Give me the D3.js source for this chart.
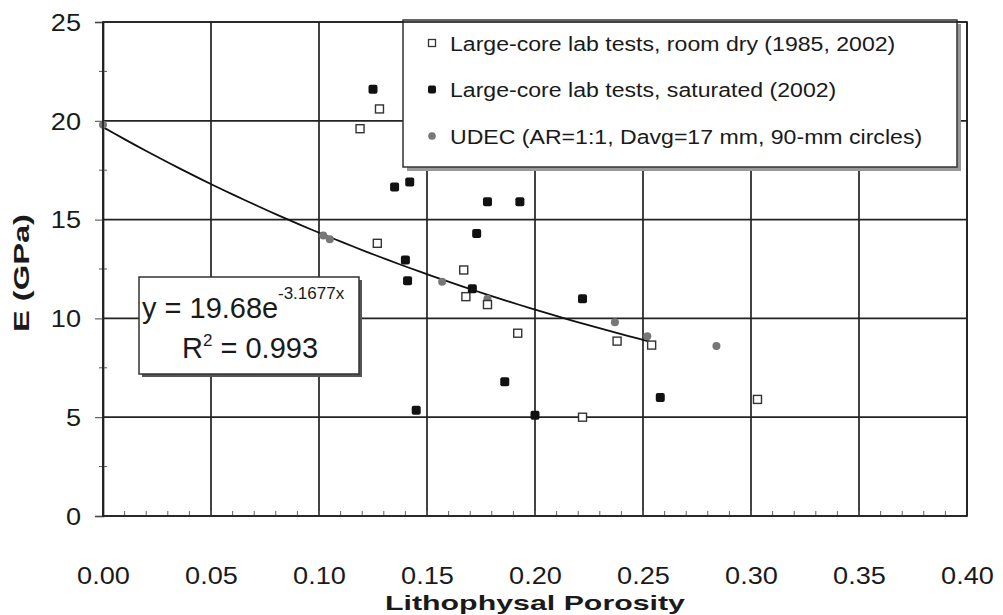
<!DOCTYPE html>
<html>
<head>
<meta charset="utf-8">
<script src="https://cdn.jsdelivr.net/npm/d3@7"></script>
<style>
  body { margin: 0; background: #fff; }
  text { font-family: "Liberation Sans", Arial, sans-serif; fill: #1a1a1a; }
</style>
</head>
<body>
<script>
// tick values
var xTicks = [0, 0.05, 0.10, 0.15, 0.20, 0.25, 0.30, 0.35, 0.40]
var yTicks = [0, 5, 10, 15, 20, 25]

// series, [porosity, E (GPa)]
var roomDry = [[0.119, 19.6], [0.128, 20.6], [0.127, 13.8], [0.167, 12.45], [0.168, 11.1],
               [0.178, 10.7], [0.192, 9.25], [0.222, 5.0], [0.238, 8.85], [0.254, 8.65], [0.303, 5.9]]
var saturated = [[0.125, 21.6], [0.135, 16.65], [0.142, 16.9], [0.140, 12.95], [0.141, 11.9],
                 [0.145, 5.35], [0.173, 14.3], [0.178, 15.9], [0.193, 15.9], [0.171, 11.5],
                 [0.186, 6.8], [0.200, 5.1], [0.222, 11.0], [0.258, 6.0]]
var udec = [[0.0, 19.8], [0.102, 14.2], [0.105, 14.0], [0.157, 11.85], [0.178, 11.0],
            [0.237, 9.8], [0.252, 9.1], [0.284, 8.6]]

var legendLabels = ["Large-core lab tests, room dry (1985, 2002)",
                    "Large-core lab tests, saturated (2002)",
                    "UDEC (AR=1:1, Davg=17 mm, 90-mm circles)"]

// exponential fit shown in the chart
var fitA = 19.68, fitB = -3.1677, fitRange = [0, 0.253]

var w = 1003, h = 615
var plot = {left: 103, right: 967, top: 22, bottom: 516}

var svg = d3.select("body").append("svg").attr("width", w).attr("height", h)

var x = d3.scaleLinear().domain([0, 0.4]).range([plot.left, plot.right])
var y = d3.scaleLinear().domain([0, 25]).range([plot.bottom, plot.top])

svg.append("rect").attr("width", w).attr("height", h).attr("fill", "#fff")

// grid
svg.append("g").selectAll("line").data(xTicks).enter().append("line")
  .attr("x1", d => x(d)).attr("x2", d => x(d))
  .attr("y1", plot.top).attr("y2", plot.bottom)
  .attr("stroke", "#222").attr("stroke-width", 1.7)
svg.append("g").selectAll("line").data(yTicks).enter().append("line")
  .attr("x1", plot.left).attr("x2", plot.right)
  .attr("y1", d => y(d)).attr("y2", d => y(d))
  .attr("stroke", "#222").attr("stroke-width", 1.7)

// minor ticks along bottom
svg.append("g").selectAll("line").data(d3.range(1, 40)).enter().append("line")
  .attr("x1", d => x(d / 100)).attr("x2", d => x(d / 100))
  .attr("y1", plot.bottom - 5).attr("y2", plot.bottom)
  .attr("stroke", "#666").attr("stroke-width", 1)

// axes
var sx = 1.18
var xAxis = svg.append("g").attr("transform", `translate(0, ${plot.bottom})`)
  .call(d3.axisBottom(x).tickValues(xTicks).tickFormat(d3.format(".2f")).tickSize(0))
xAxis.select(".domain").remove()
xAxis.selectAll("text").attr("font-size", 23).attr("y", 68).attr("dy", "0")
  .attr("transform", `scale(${sx},1)`).attr("font-family", "Liberation Sans, Arial, sans-serif")

var yAxis = svg.append("g").attr("transform", `translate(${plot.left}, 0)`)
  .call(d3.axisLeft(y).tickValues(yTicks).tickSize(8).tickPadding(14))
yAxis.select(".domain").attr("stroke", "#222").attr("stroke-width", 1.7)
yAxis.selectAll(".tick line").attr("stroke", "#444")
yAxis.selectAll("text").attr("font-size", 23).attr("x", -22 / sx).attr("dy", "0.36em")
  .attr("transform", `scale(${sx},1)`).attr("font-family", "Liberation Sans, Arial, sans-serif")
svg.append("g").selectAll("line").data([2.5, 7.5, 12.5, 17.5, 22.5]).enter().append("line")
  .attr("x1", plot.left - 4).attr("x2", plot.left + 4)
  .attr("y1", d => y(d)).attr("y2", d => y(d))
  .attr("stroke", "#555")

// fit curve
var fitPts = d3.range(0, 51).map(i => {
  var px = fitRange[0] + (fitRange[1] - fitRange[0]) * i / 50
  return [px, fitA * Math.exp(fitB * px)]
})
svg.append("path").datum(fitPts)
  .attr("d", d3.line().x(d => x(d[0])).y(d => y(d[1])))
  .attr("fill", "none").attr("stroke", "#111").attr("stroke-width", 1.8)

// points
svg.append("g").selectAll("circle").data(udec).enter().append("circle")
  .attr("cx", d => x(d[0])).attr("cy", d => y(d[1])).attr("r", 4)
  .attr("fill", "#777")
svg.append("g").selectAll("rect").data(roomDry).enter().append("rect")
  .attr("x", d => x(d[0]) - 4).attr("y", d => y(d[1]) - 4)
  .attr("width", 8).attr("height", 8)
  .attr("fill", "#fff").attr("stroke", "#333").attr("stroke-width", 1.4)
svg.append("g").selectAll("rect").data(saturated).enter().append("rect")
  .attr("x", d => x(d[0]) - 4.5).attr("y", d => y(d[1]) - 4.5)
  .attr("width", 9).attr("height", 9).attr("rx", 2)
  .attr("fill", "#111")

// legend
var lg = svg.append("g")
lg.append("rect").attr("x", 407).attr("y", 24).attr("width", 554).attr("height", 147).attr("fill", "#999")
lg.append("rect").attr("x", 403).attr("y", 20).attr("width", 554).attr("height", 147)
  .attr("fill", "#fff").attr("stroke", "#333").attr("stroke-width", 1.5)
var rows = lg.selectAll("g").data(legendLabels).enter().append("g")
  .attr("transform", (d, i) => `translate(432, ${43 + i * 46.5})`)
rows.append("text").attr("dy", "0.36em").attr("font-size", 21)
  .attr("transform", "translate(18,0) scale(1.1,1)").text(d => d)
rows.filter((d, i) => i == 0).append("rect").attr("x", -3.5).attr("y", -3.5).attr("width", 7).attr("height", 7)
  .attr("fill", "#fff").attr("stroke", "#333").attr("stroke-width", 1.3)
rows.filter((d, i) => i == 1).append("rect").attr("x", -4).attr("y", -4).attr("width", 8).attr("height", 8).attr("rx", 2)
  .attr("fill", "#111")
rows.filter((d, i) => i == 2).append("circle").attr("r", 3.8).attr("fill", "#777")

// equation box
var eq = svg.append("g")
eq.append("rect").attr("x", 142).attr("y", 280).attr("width", 220).attr("height", 97).attr("fill", "#555")
eq.append("rect").attr("x", 139).attr("y", 277).attr("width", 220).attr("height", 97)
  .attr("fill", "#fff").attr("stroke", "#333").attr("stroke-width", 1.5)
eq.append("text").attr("x", 142).attr("y", 318).attr("font-size", 29).text("y = 19.68e")
eq.append("text").attr("x", 278).attr("y", 299).attr("font-size", 17).text("-3.1677x")
var r2 = eq.append("text").attr("x", 182).attr("y", 358).attr("font-size", 29)
r2.append("tspan").text("R")
r2.append("tspan").attr("font-size", 17).attr("dy", -12).text("2")
r2.append("tspan").attr("dy", 12).text(" = 0.993")

// titles
svg.append("text").attr("x", (plot.left + plot.right) / 2).attr("y", 610)
  .attr("text-anchor", "middle").attr("font-size", 21).attr("font-weight", "bold")
  .attr("textLength", 300).attr("lengthAdjust", "spacingAndGlyphs")
  .text("Lithophysal Porosity")
svg.append("text").attr("transform", "translate(29, 273) rotate(-90)")
  .attr("text-anchor", "middle").attr("font-size", 22).attr("font-weight", "bold")
  .attr("textLength", 118).attr("lengthAdjust", "spacingAndGlyphs")
  .text("E (GPa)")

// plot border
svg.append("rect").attr("x", plot.left).attr("y", plot.top)
  .attr("width", plot.right - plot.left).attr("height", plot.bottom - plot.top)
  .attr("fill", "none").attr("stroke", "#222").attr("stroke-width", 1.7)
</script>
</body>
</html>
